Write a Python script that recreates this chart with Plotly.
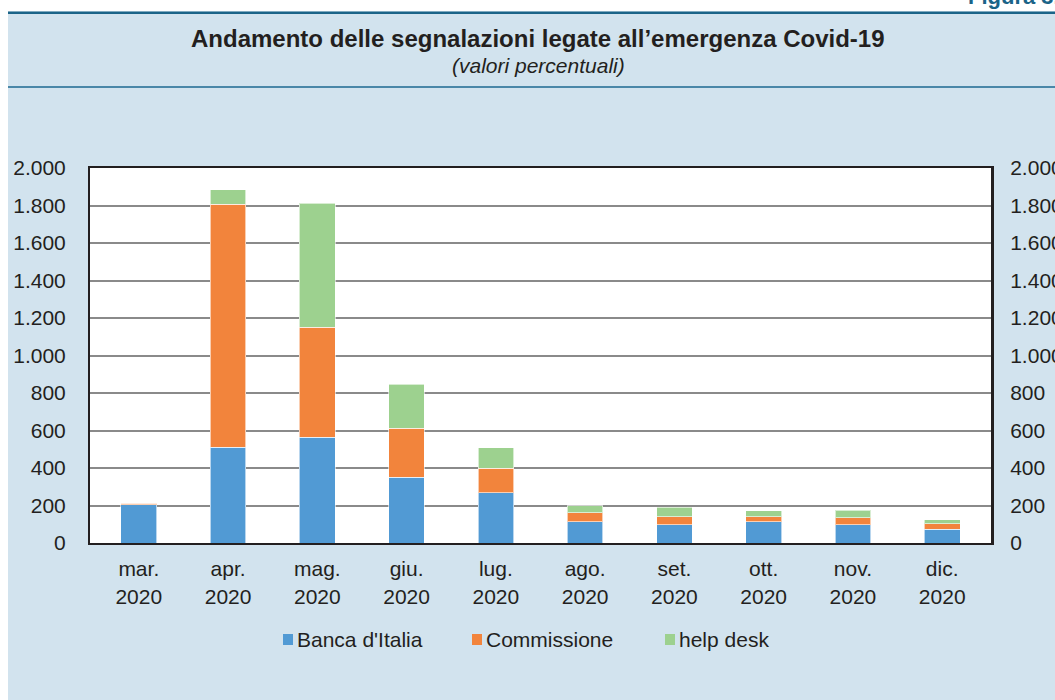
import plotly.graph_objects as go

months = ["mar.<br>2020", "apr.<br>2020", "mag.<br>2020", "giu.<br>2020", "lug.<br>2020",
          "ago.<br>2020", "set.<br>2020", "ott.<br>2020", "nov.<br>2020", "dic.<br>2020"]
banca_italia = [205, 512, 565, 352, 267, 114, 98, 114, 98, 73]
commissione = [8, 1296, 587, 261, 133, 48, 42, 26, 37, 30]
help_desk = [0, 75, 661, 235, 107, 37, 50, 31, 39, 21]
series_names = ["Banca d'Italia", "Commissione", "help desk"]
series_colors = ["#519ad4", "#f2843c", "#9dd18f"]

title = "Andamento delle segnalazioni legate all\u2019emergenza Covid-19"
subtitle = "(valori percentuali)"
fig_label = "Figura 3."

W, H = 1055, 700
L, R, T, B = 90, 991, 168, 543

def px(x):
    return (x - L) / (R - L)

def py(y):
    return (B - y) / (B - T)

FONT = "Liberation Sans, Arial, sans-serif"
TXT = "#231f20"
PANEL = "#d2e3ee"

fig = go.Figure()
for name, vals, col in zip(series_names, [banca_italia, commissione, help_desk], series_colors):
    fig.add_trace(go.Bar(x=months, y=vals, name=name, showlegend=False,
                         marker=dict(color=col, line=dict(color="rgba(255,255,255,0.6)", width=1))))

# invisible trace for right axis
fig.add_trace(go.Scatter(x=months, y=banca_italia, yaxis="y2", mode="markers",
                         marker=dict(opacity=0), showlegend=False, hoverinfo="skip"))

shapes = [
    dict(type="rect", xref="paper", yref="paper", x0=px(0), x1=px(W), y0=py(0), y1=py(11.5),
         fillcolor="white", line_width=0, layer="below"),
    dict(type="rect", xref="paper", yref="paper", x0=px(0), x1=px(8), y0=py(0), y1=py(H),
         fillcolor="white", line_width=0, layer="below"),
    dict(type="line", xref="paper", yref="paper", x0=px(8), x1=px(W), y0=py(12.8), y1=py(12.8),
         line=dict(color="#1b6488", width=2.6)),
    dict(type="line", xref="paper", yref="paper", x0=px(8), x1=px(W), y0=py(87), y1=py(87),
         line=dict(color="#4a87a8", width=2)),
]

annotations = [
    dict(text="<b>" + title + "</b>", xref="paper", yref="paper", x=px(538), y=py(38),
         xanchor="center", yanchor="middle", showarrow=False,
         font=dict(family=FONT, size=24, color=TXT)),
    dict(text="<i>" + subtitle + "</i>", xref="paper", yref="paper", x=px(538), y=py(66),
         xanchor="center", yanchor="middle", showarrow=False,
         font=dict(family=FONT, size=21, color=TXT)),
    dict(text="<b>" + fig_label + "</b>", xref="paper", yref="paper", x=px(966), y=py(-4),
         xanchor="left", yanchor="middle", showarrow=False,
         font=dict(family=FONT, size=22, color="#1b6488")),
]

# custom legend (small squares + labels), built from the series lists
legend_x = [283, 472, 665]
for name, col, lx in zip(series_names, series_colors, legend_x):
    shapes.append(dict(type="rect", xref="paper", yref="paper",
                       x0=px(lx), x1=px(lx + 10), y0=py(645), y1=py(634),
                       fillcolor=col, line_width=0))
    annotations.append(dict(text=name, xref="paper", yref="paper", x=px(lx + 12), y=py(639.5),
                            xanchor="left", yanchor="middle", showarrow=False,
                            font=dict(family=FONT, size=21, color=TXT)))

axis_common = dict(range=[0, 2000], dtick=200, tickformat=",d",
                   tickfont=dict(family=FONT, size=21, color=TXT),
                   fixedrange=True, automargin=False)

fig.update_layout(
    width=W, height=H,
    margin=dict(l=L, r=W - R, t=T, b=H - B, pad=0, autoexpand=False),
    paper_bgcolor=PANEL, plot_bgcolor="white",
    separators=",.",
    barmode="stack", bargap=0.6,
    font=dict(family=FONT, color=TXT),
    showlegend=False,
    xaxis=dict(showline=True, linecolor="#231f20", linewidth=2, mirror=True,
               tickfont=dict(family=FONT, size=21, color=TXT), ticks="",
               ticklabelstandoff=6, fixedrange=True, automargin=False),
    yaxis=dict(**axis_common, showgrid=True, gridcolor="#8a8a8a", gridwidth=1.5,
               showline=True, linecolor="#231f20", linewidth=2, zeroline=False,
               ticks="", ticklabelstandoff=18),
    yaxis2=dict(**axis_common, overlaying="y", side="right", showgrid=False,
                showline=True, linecolor="#231f20", linewidth=3, zeroline=False,
                ticks="", ticklabelstandoff=12),
    shapes=shapes, annotations=annotations,
)

fig.write_html("out.html", config={"displayModeBar": False},
               post_script="document.body.style.margin='0';document.body.style.overflow='hidden';")
